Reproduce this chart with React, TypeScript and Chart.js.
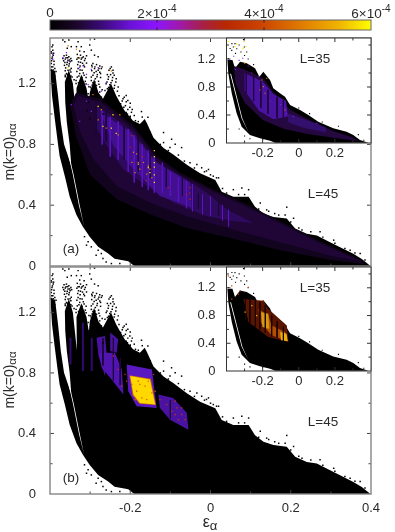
import React, { useEffect, useRef } from "react";
import { Chart, registerables } from "chart.js";

Chart.register(...registerables);

type P = number[];

const xTicksMajor = [-0.2, 0, 0.2];
const colorbarTicks = [0, 2e-4, 4e-4, 6e-4];
const colorbarLabels = ["0", "2×10", "4×10", "6×10"];
const colorbarStops: [number, string][] = [
  [0, "#000000"], [0.08, "#1b0628"], [0.16, "#3a0a78"], [0.25, "#6a12d8"], [0.33, "#8c14ff"], [0.4, "#a018b0"],
  [0.48, "#a82040"], [0.55, "#b82800"], [0.66, "#cc4400"], [0.78, "#e07a00"], [0.9, "#f0b400"], [1, "#ffff00"],
];

// main cloud outline (same for both L=45 panels)
const mainCloud: P[] = [
  [-0.398, 1.3], [-0.398, 1.254], [-0.395, 1.121], [-0.388, 0.967], [-0.38, 0.801], [-0.376, 0.723], [-0.363, 0.591],
  [-0.351, 0.458], [-0.334, 0.336], [-0.318, 0.259], [-0.301, 0.192], [-0.28, 0.126], [-0.255, 0.082], [-0.239, 0.048],
  [-0.205, 0.031], [-0.19, 0.0], [0.398, 0.0], [0.398, 0.002], [0.377, 0.046], [0.356, 0.08], [0.323, 0.124], [0.298, 0.157],
  [0.265, 0.201], [0.24, 0.212], [0.211, 0.246], [0.19, 0.312], [0.157, 0.323], [0.132, 0.345], [0.111, 0.389],
  [0.095, 0.456], [0.057, 0.456], [0.028, 0.489], [0.012, 0.566], [-0.026, 0.61], [-0.059, 0.666], [-0.092, 0.732],
  [-0.117, 0.776], [-0.142, 0.843], [-0.159, 0.942], [-0.164, 0.967], [-0.176, 0.934], [-0.193, 0.956], [-0.214, 1.022],
  [-0.235, 1.12], [-0.248, 1.2], [-0.262, 1.13], [-0.268, 1.1], [-0.279, 1.14], [-0.29, 1.23], [-0.301, 1.14], [-0.303, 1.07], [-0.309, 1.17], [-0.322, 1.26], [-0.334, 1.17],
  [-0.333, 0.95], [-0.343, 1.2], [-0.353, 1.29], [-0.363, 1.21], [-0.362, 1.077], [-0.358, 0.944],
  [-0.351, 0.801], [-0.347, 0.66], [-0.365, 0.801], [-0.373, 0.944], [-0.38, 1.121], [-0.387, 1.276],
];
const mainGap: P[] = [[-0.357, 0.76], [-0.343, 0.6], [-0.328, 0.4], [-0.315, 0.26], [-0.313, 0.26], [-0.326, 0.4], [-0.341, 0.6], [-0.355, 0.76]];
const mainSpecks: P[] = [
  [-0.395, 1.443], [-0.393, 1.42], [-0.397, 1.409], [-0.392, 1.387], [-0.395, 1.365], [-0.39, 1.347], [-0.397, 1.332], [-0.393, 1.31], [-0.388, 1.299], [-0.398, 1.288], [-0.393, 1.454],
  [-0.368, 1.487], [-0.363, 1.476], [-0.353, 1.487], [-0.347, 1.443], [-0.357, 1.432], [-0.365, 1.383], [-0.359, 1.387], [-0.353, 1.376], [-0.348, 1.365], [-0.368, 1.365], [-0.362, 1.361], [-0.355, 1.354], [-0.35, 1.343], [-0.363, 1.339], [-0.358, 1.325], [-0.353, 1.316], [-0.361, 1.303], [-0.355, 1.288], [-0.348, 1.277], [-0.359, 1.266], [-0.353, 1.25], [-0.345, 1.243],
  [-0.33, 1.476], [-0.334, 1.443], [-0.322, 1.443], [-0.326, 1.414], [-0.315, 1.409], [-0.332, 1.392], [-0.324, 1.387], [-0.317, 1.376], [-0.309, 1.383], [-0.33, 1.37], [-0.322, 1.361], [-0.314, 1.352], [-0.329, 1.343], [-0.319, 1.334], [-0.325, 1.316], [-0.314, 1.31], [-0.33, 1.299], [-0.32, 1.288], [-0.326, 1.266], [-0.315, 1.255], [-0.332, 1.243], [-0.322, 1.228], [-0.312, 1.215], [-0.329, 1.206],
  [-0.289, 1.493], [-0.301, 1.454], [-0.297, 1.42], [-0.289, 1.387], [-0.28, 1.376], [-0.293, 1.332], [-0.284, 1.325], [-0.276, 1.316], [-0.272, 1.299], [-0.295, 1.31], [-0.289, 1.299], [-0.28, 1.288], [-0.29, 1.272], [-0.282, 1.259], [-0.274, 1.266], [-0.297, 1.243], [-0.287, 1.232], [-0.279, 1.215], [-0.293, 1.206], [-0.284, 1.188], [-0.299, 1.177], [-0.276, 1.177],
  [-0.247, 1.31], [-0.253, 1.288], [-0.243, 1.288], [-0.257, 1.259], [-0.249, 1.259], [-0.24, 1.255], [-0.235, 1.232], [-0.255, 1.228], [-0.245, 1.221], [-0.26, 1.199], [-0.251, 1.193], [-0.239, 1.188], [-0.23, 1.177], [-0.257, 1.166], [-0.245, 1.162],
  [-0.21, 1.122], [-0.218, 1.1], [-0.206, 1.089], [-0.224, 1.067], [-0.212, 1.055], [-0.201, 1.044], [-0.197, 1.011], [-0.218, 1.022], [-0.207, 1.0], [-0.172, 1.016], [-0.187, 0.956], [-0.156, 0.978],
  [-0.117, 0.878], [-0.097, 0.834], [-0.088, 0.801], [-0.117, 0.812], [-0.072, 0.779], [-0.101, 0.779], [-0.051, 0.679], [-0.034, 0.668], [-0.022, 0.646], [-0.005, 0.635], [0.007, 0.591], [0.02, 0.58], [0.057, 0.502], [0.078, 0.513], [0.095, 0.502], [0.124, 0.414], [0.14, 0.369], [0.19, 0.387], [0.186, 0.336], [0.207, 0.314], [0.228, 0.237], [0.273, 0.226], [0.307, 0.17], [0.348, 0.104], [0.373, 0.082],
  [-0.305, 0.16], [-0.314, 0.193], [-0.297, 0.126], [-0.309, 0.137], [-0.28, 0.104], [-0.272, 0.082], [-0.285, 0.071], [-0.268, 0.049], [-0.26, 0.027], [-0.247, 0.016], [-0.226, 0.016],
  [-0.276, 1.144], [-0.272, 1.111], [-0.268, 1.078], [-0.274, 1.044], [-0.305, 1.133], [-0.304, 1.078], [-0.307, 1.022], [-0.301, 0.967], [-0.268, 1.0],
  [0.16, 0.345], [0.17, 0.335], [0.145, 0.36], [0.22, 0.25], [0.25, 0.225], [0.28, 0.19], [0.31, 0.15], [0.335, 0.115], [0.36, 0.085], [0.385, 0.04], [0.1, 0.41], [0.085, 0.47], [0.07, 0.47], [0.04, 0.48], [0.015, 0.58], [-0.01, 0.625], [-0.04, 0.645], [-0.065, 0.69], [-0.08, 0.73], [-0.105, 0.76], [-0.125, 0.8], [-0.15, 0.88], [0.0, 0.6], [-0.015, 0.62], [0.03, 0.51], [0.12, 0.375], [0.2, 0.29],
  [-0.385, 1.28], [-0.388, 1.25], [-0.362, 1.245], [-0.35, 1.235], [-0.34, 1.225], [-0.335, 1.2], [-0.31, 1.198], [-0.303, 1.18], [-0.297, 1.165], [-0.27, 1.16], [-0.263, 1.155], [-0.228, 1.12], [-0.22, 1.085], [-0.2, 0.985], [-0.18, 0.95], [-0.17, 0.98],
];
const fingerSpecks: P[] = [
  [-0.396, 1.4], [-0.391, 1.4], [-0.394, 1.375], [-0.39, 1.325], [-0.396, 1.35], [-0.392, 1.29], [-0.396, 1.31], [-0.389, 1.28],
  [-0.366, 1.35], [-0.36, 1.37], [-0.356, 1.37], [-0.351, 1.355], [-0.346, 1.35], [-0.364, 1.32], [-0.357, 1.34], [-0.352, 1.33], [-0.347, 1.3], [-0.362, 1.285], [-0.35, 1.29], [-0.357, 1.26], [-0.348, 1.25], [-0.362, 1.255],
  [-0.333, 1.36], [-0.327, 1.37], [-0.32, 1.37], [-0.312, 1.365], [-0.331, 1.325], [-0.324, 1.34], [-0.316, 1.32], [-0.309, 1.335], [-0.333, 1.28], [-0.325, 1.29], [-0.317, 1.27], [-0.328, 1.25], [-0.32, 1.24], [-0.31, 1.24], [-0.335, 1.22], [-0.326, 1.215], [-0.316, 1.205],
  [-0.296, 1.32], [-0.288, 1.31], [-0.278, 1.3], [-0.27, 1.31], [-0.296, 1.285], [-0.285, 1.28], [-0.276, 1.275], [-0.293, 1.255], [-0.283, 1.245], [-0.274, 1.24], [-0.297, 1.22], [-0.288, 1.21], [-0.278, 1.195], [-0.295, 1.19], [-0.286, 1.17],
  [-0.25, 1.3], [-0.243, 1.27], [-0.254, 1.245], [-0.244, 1.24], [-0.236, 1.21], [-0.258, 1.21], [-0.248, 1.205], [-0.24, 1.17], [-0.254, 1.175], [-0.232, 1.15], [-0.248, 1.15],
  [-0.215, 1.11], [-0.21, 1.08], [-0.2, 1.07], [-0.216, 1.045], [-0.206, 1.03], [-0.195, 1.03], [-0.21, 1.01], [-0.19, 0.99], [-0.2, 0.98],
];

// panel (a) density
const aGlowFaint: P[] = [[-0.335, 1.14], [-0.275, 1.1], [-0.192, 0.925], [-0.134, 0.726], [-0.076, 0.615], [0.007, 0.504], [0.082, 0.416], [0.182, 0.283], [0.265, 0.173], [0.356, 0.062], [0.39, 0.01], [0.3, 0.04], [0.18, 0.1], [0.057, 0.18], [-0.059, 0.25], [-0.151, 0.34], [-0.234, 0.44], [-0.3, 0.6], [-0.335, 0.85], [-0.35, 1.06]];
const aGlowDark: P[] = [[-0.33, 1.12], [-0.275, 1.08], [-0.192, 0.905], [-0.134, 0.71], [-0.076, 0.6], [0.007, 0.49], [0.082, 0.4], [0.182, 0.27], [0.265, 0.16], [0.35, 0.06], [0.381, 0.029], [0.307, 0.062], [0.182, 0.15], [0.057, 0.239], [-0.059, 0.327], [-0.151, 0.416], [-0.234, 0.527], [-0.292, 0.704], [-0.325, 0.881], [-0.342, 1.058]];
const aGlowMid: P[] = [[-0.284, 1.06], [-0.192, 0.881], [-0.134, 0.681], [-0.076, 0.593], [-0.009, 0.482], [0.041, 0.372], [0.107, 0.283], [0.057, 0.294], [-0.009, 0.327], [-0.092, 0.416], [-0.159, 0.527], [-0.217, 0.637], [-0.259, 0.792], [-0.288, 0.925]];
const aGlowBright: P[] = [[-0.275, 1.013], [-0.2, 0.881], [-0.134, 0.681], [-0.051, 0.549], [-0.047, 0.383], [-0.126, 0.46], [-0.192, 0.637], [-0.242, 0.792]];
const aBrightStripes: P[] = [[-0.27, 1.02, 0.8], [-0.25, 0.98, 0.72], [-0.23, 0.95, 0.7], [-0.205, 0.9, 0.62], [-0.19, 0.86, 0.55], [-0.17, 0.8, 0.52], [-0.155, 0.76, 0.5], [-0.14, 0.72, 0.48], [-0.12, 0.68, 0.48], [-0.1, 0.62, 0.46], [-0.08, 0.58, 0.42], [-0.06, 0.56, 0.38], [-0.045, 0.54, 0.36], [-0.02, 0.47, 0.34], [0.0, 0.46, 0.33], [0.03, 0.4, 0.3], [0.045, 0.37, 0.26]];
const aDarkStripes: P[] = [[-0.285, 1.08, 0.85], [-0.26, 1.02, 0.82], [-0.215, 0.92, 0.7], [-0.18, 0.86, 0.62], [-0.15, 0.74, 0.58], [-0.11, 0.66, 0.52], [-0.07, 0.58, 0.46], [-0.03, 0.48, 0.38], [0.02, 0.42, 0.33]];
const aYellow: P[] = [[-0.14, 0.759], [-0.14, 0.72], [-0.14, 0.68], [-0.14, 0.65], [-0.14, 0.6], [-0.14, 0.55], [-0.18, 0.67], [-0.155, 0.648], [-0.151, 0.615], [-0.243, 0.995], [-0.247, 0.907], [-0.28, 1.05], [-0.268, 0.918], [-0.235, 0.873], [-0.355, 1.305]];
const aOrange: P[] = [[-0.155, 0.659], [-0.151, 0.637], [-0.159, 0.604], [-0.146, 0.582], [-0.18, 0.681], [-0.192, 0.748], [-0.196, 0.681], [-0.184, 0.737], [-0.176, 0.637], [-0.188, 0.615], [-0.167, 0.681], [-0.247, 1.283], [-0.272, 1.028], [-0.226, 0.995], [-0.293, 1.128], [-0.326, 1.371], [-0.334, 1.426], [-0.355, 1.449], [-0.28, 0.962], [-0.26, 0.907], [-0.23, 0.862]];
const aRed: P[] = [[-0.051, 0.516], [-0.051, 0.438], [-0.196, 0.858], [-0.105, 0.516], [-0.17, 0.72], [-0.2, 0.78], [-0.16, 0.56], [-0.06, 0.47], [-0.052, 0.48]];
const aPurple: P[] = [[-0.368, 1.371], [-0.359, 1.404], [-0.318, 1.316], [-0.326, 1.305], [-0.297, 1.294], [-0.28, 1.305], [-0.26, 1.205], [-0.393, 1.393], [-0.393, 1.36], [-0.309, 1.261], [-0.355, 1.349], [-0.305, 1.194], [-0.347, 1.061], [-0.309, 1.084], [-0.297, 1.017], [-0.326, 0.951], [-0.272, 1.15]];

// panel (b) density
const bBlockA: P[] = [[-0.284, 1.033], [-0.263, 1.044], [-0.259, 0.934], [-0.263, 0.779], [-0.279, 0.912]];
const bBlockB: P[] = [[-0.25, 1.067], [-0.23, 1.022], [-0.234, 0.934], [-0.25, 0.945]];
const bBlockC: P[] = [[-0.279, 0.934], [-0.238, 0.934], [-0.221, 0.823], [-0.217, 0.657], [-0.25, 0.768], [-0.271, 0.834]];
const bBlockD: P[] = [[-0.209, 0.856], [-0.146, 0.823], [-0.138, 0.646], [-0.134, 0.569], [-0.184, 0.58], [-0.205, 0.679]];
const bRing: P[] = [[-0.202, 0.785], [-0.149, 0.762], [-0.136, 0.588], [-0.177, 0.597], [-0.194, 0.653]];
const bHot: P[] = [[-0.2, 0.779], [-0.151, 0.757], [-0.138, 0.591], [-0.176, 0.602], [-0.192, 0.657]];
const bBlockE: P[] = [[-0.13, 0.657], [-0.093, 0.635], [-0.059, 0.536], [-0.055, 0.425], [-0.101, 0.491], [-0.126, 0.569]];
const bFaintStripes: P[] = [[-0.349, 1.033, 0.856], [-0.318, 1.133, 0.812], [-0.296, 1.033, 0.812]];
const bDarkStripes: P[] = [[-0.268, 1.03, 0.85], [-0.242, 1.03, 0.75], [-0.225, 0.9, 0.72], [-0.1, 0.62, 0.5]];
const bRed: P[] = [[-0.242, 0.912], [-0.23, 0.823], [-0.221, 0.713], [-0.213, 0.79], [-0.142, 0.79], [-0.209, 0.746], [-0.109, 0.591], [-0.097, 0.547], [-0.084, 0.569], [-0.072, 0.569], [-0.088, 0.525], [-0.072, 0.525], [-0.08, 0.491], [-0.126, 0.624], [-0.063, 0.491], [-0.088, 0.613]];
const bHotSpots: P[] = [[-0.18, 0.746], [-0.163, 0.713], [-0.184, 0.679], [-0.146, 0.668], [-0.171, 0.635], [-0.159, 0.624], [-0.188, 0.624], [-0.176, 0.724], [-0.155, 0.746], [-0.196, 0.724], [-0.138, 0.679]];

// L=35 insets
const insetCloud: P[] = [[-0.395, 1.186], [-0.39, 0.995], [-0.371, 0.71], [-0.344, 0.424], [-0.316, 0.233], [-0.27, 0.114], [-0.215, 0.067], [-0.159, 0.033], [-0.13, 0.005], [0.385, 0.005], [0.339, 0.043], [0.302, 0.114], [0.265, 0.162], [0.191, 0.21], [0.108, 0.305], [0.053, 0.4], [0.007, 0.471], [-0.048, 0.543], [-0.076, 0.662], [-0.104, 0.71], [-0.141, 0.781], [-0.159, 0.9], [-0.196, 1.019], [-0.218, 0.948], [-0.242, 1.067], [-0.288, 1.138], [-0.325, 1.162], [-0.353, 1.067], [-0.367, 1.186]];
const insetGap: P[] = [[-0.38, 0.99], [-0.316, 0.35], [-0.279, 0.157], [-0.276, 0.157], [-0.312, 0.35], [-0.375, 0.99]];
const insetSpecks: P[] = [[-0.38, 1.35], [-0.35, 1.28], [-0.32, 1.3], [-0.3, 1.25], [-0.37, 1.42], [-0.33, 1.4], [-0.28, 1.2], [-0.25, 1.12], [0.0, 0.5], [0.06, 0.42], [0.13, 0.3], [0.22, 0.24], [0.33, 0.12], [0.36, 0.04], [-0.3, 0.1], [-0.27, 0.06], [-0.33, 0.2], [-0.2, 0.05], [-0.353, 1.419], [-0.343, 1.347], [-0.301, 1.371], [-0.288, 1.3], [-0.306, 1.476], [-0.362, 1.371], [-0.39, 1.205], [-0.371, 1.324]];
const iaDark: P[] = [[-0.36, 1.1], [-0.3, 1.05], [-0.196, 0.92], [-0.14, 0.72], [-0.05, 0.48], [0.05, 0.34], [0.19, 0.17], [0.3, 0.08], [0.33, 0.03], [0.2, 0.07], [0.05, 0.13], [-0.08, 0.2], [-0.2, 0.33], [-0.3, 0.58], [-0.35, 0.85]];
const iaMid: P[] = [[-0.3, 1.0], [-0.2, 0.88], [-0.14, 0.7], [-0.07, 0.6], [-0.06, 0.38], [-0.14, 0.34], [-0.22, 0.46], [-0.3, 0.75]];
const iaTail: P[] = [[-0.06, 0.42], [0.05, 0.32], [0.15, 0.22], [0.15, 0.15], [0.02, 0.22], [-0.06, 0.3]];
const iaDarkStripes: P[] = [[-0.29, 1.0, 0.72], [-0.25, 0.95, 0.6], [-0.21, 0.88, 0.5], [-0.17, 0.76, 0.42], [-0.12, 0.66, 0.36], [-0.085, 0.62, 0.36]];
const iaYellow: P[] = [[-0.39, 1.448], [-0.353, 1.376], [-0.303, 1.448], [-0.292, 1.376], [-0.307, 1.352], [-0.344, 1.414]];
const iaOrange: P[] = [[-0.299, 1.138], [-0.196, 0.805], [-0.204, 0.9], [-0.186, 0.71], [-0.215, 0.757], [-0.177, 0.924], [-0.076, 0.471]];
const iaPurple: P[] = [[-0.385, 1.19], [-0.36, 1.24], [-0.33, 1.18], [-0.31, 1.21], [-0.28, 1.1], [-0.26, 1.0], [-0.22, 0.95], [-0.35, 1.05], [-0.1, 0.55], [-0.08, 0.5], [-0.07, 0.42], [-0.16, 0.6], [-0.03, 0.38], [0.1, 0.28]];
const ibDark: P[] = [[-0.306, 1.038], [-0.196, 1.014], [-0.168, 0.895], [-0.066, 0.657], [-0.057, 0.419], [-0.168, 0.491], [-0.279, 0.705]];
const ibOrange: P[] = [[-0.223, 0.895], [-0.168, 0.8], [-0.15, 0.657], [-0.076, 0.562], [-0.061, 0.429], [-0.15, 0.514], [-0.214, 0.705]];
const ibHot1: P[] = [[-0.209, 0.848], [-0.168, 0.824], [-0.164, 0.61], [-0.201, 0.633]];
const ibHot2: P[] = [[-0.103, 0.562], [-0.067, 0.538], [-0.061, 0.429], [-0.098, 0.443]];
const ibDarkStripes: P[] = [[-0.295, 1.03, 0.72], [-0.27, 1.02, 0.68], [-0.24, 1.02, 0.62], [-0.215, 1.0, 0.6], [-0.185, 0.95, 0.55], [-0.15, 0.8, 0.5], [-0.12, 0.72, 0.48], [-0.085, 0.64, 0.43]];
const ibRed: P[] = [[-0.39, 1.371], [-0.371, 1.228], [-0.325, 1.157], [-0.279, 1.205], [-0.196, 1.014], [-0.334, 1.109], [-0.371, 1.038]];
const ibYellow: P[] = [[-0.297, 0.848], [-0.26, 0.943], [-0.233, 0.8]];

const FONT = "'Liberation Sans', Arial, sans-serif";
const INK = "#2a2a2a";
const shape = (pts: P[], color: string) => ({
  data: pts.map(([x, y]) => ({ x, y })), showLine: true, fill: "shape", backgroundColor: color,
  borderWidth: 0, borderColor: color, pointRadius: 0, tension: 0,
});
const dots = (pts: P[], color: string, r = 0.9) => ({
  data: pts.map(([x, y]) => ({ x, y })), showLine: false, backgroundColor: color,
  borderWidth: 0, pointRadius: r, pointStyle: "rect",
});
const stripes = (list: P[], color: string, width = 1) => ({
  data: list.flatMap(([x, top, bot]) => [{ x, y: top }, { x, y: bot }, { x, y: NaN }]),
  showLine: true, fill: false, spanGaps: false, borderColor: color, borderWidth: width, pointRadius: 0, tension: 0,
});

type Label = { text: string; x: number; y: number; sub?: string; rot?: boolean; size?: number };

function drawLabel(c: CanvasRenderingContext2D, l: Label) {
  c.save();
  c.fillStyle = INK;
  const size = l.size ?? 13.5;
  const subSize = size * 0.82;
  c.font = `${size}px ${FONT}`;
  c.textBaseline = "middle";
  c.translate(l.x, l.y);
  if (l.rot) c.rotate(-Math.PI / 2);
  const w = c.measureText(l.text).width;
  c.font = `${subSize}px ${FONT}`;
  const sw = l.sub ? c.measureText(l.sub).width : 0;
  const start = -(w + sw) / 2;
  c.textAlign = "left";
  c.font = `${size}px ${FONT}`;
  c.fillText(l.text, start, 0);
  if (l.sub) {
    c.font = `${subSize}px ${FONT}`;
    c.fillText(l.sub, start + w, 3);
  }
  c.restore();
}

function panel(
  canvas: HTMLCanvasElement,
  o: {
    left: number; top: number; right: number; bottom: number; yw: number; showX: boolean; xPad: number; yPad: number; xTicks: number[];
    border: string; tickColor: string; white: boolean; layers: any[]; labels: Label[];
  },
) {
  const xh = o.showX ? 24 : 0;
  const decorate = {
    id: "decorate",
    beforeDatasetsDraw(ch: any) {
      if (!o.white) return;
      const a = ch.chartArea;
      ch.ctx.fillStyle = "#ffffff";
      ch.ctx.fillRect(a.left, a.top, a.width, a.height);
    },
    afterDatasetsDraw(ch: any) {
      const a = ch.chartArea, c = ch.ctx;
      c.save();
      c.strokeStyle = o.tickColor;
      c.lineWidth = 1;
      c.beginPath();
      [-0.3, -0.2, -0.1, 0, 0.1, 0.2, 0.3].forEach((v) => {
        const p = ch.scales.x.getPixelForValue(v);
        const len = Math.abs(v * 10) % 2 > 0.5 ? 2.5 : 4;
        c.moveTo(p, a.bottom); c.lineTo(p, a.bottom - len);
        c.moveTo(p, a.top); c.lineTo(p, a.top + len);
      });
      [0.2, 0.4, 0.6, 0.8, 1.0, 1.2, 1.4].forEach((v) => {
        const p = ch.scales.y.getPixelForValue(v);
        const len = Math.round(v * 10) % 4 === 0 ? 4 : 2.5;
        c.moveTo(a.left, p); c.lineTo(a.left + len, p);
        c.moveTo(a.right, p); c.lineTo(a.right - len, p);
      });
      c.stroke();
      c.strokeStyle = o.border;
      c.lineWidth = o.white ? 1 : 1.4;
      c.strokeRect(a.left, a.top, a.width, a.height);
      c.restore();
      o.labels.forEach((l) => drawLabel(c, l));
    },
  };
  return new Chart(canvas, {
    type: "scatter",
    data: { datasets: [...o.layers].reverse() },
    plugins: [decorate],
    options: {
      animation: false, responsive: false, events: [],
      layout: { padding: { left: o.left - o.yw, top: o.top, right: 395 - o.right, bottom: 532 - o.bottom - xh } },
      plugins: { legend: { display: false }, tooltip: { enabled: false } },
      scales: {
        x: {
          type: "linear", min: -0.4, max: 0.4,
          afterFit: (s: any) => { s.height = xh; },
          border: { display: false }, grid: { display: false },
          afterBuildTicks: (s: any) => { s.ticks = o.xTicks.map((value) => ({ value })); },
          ticks: {
            display: o.showX, color: INK, font: { family: FONT, size: 13 }, padding: o.xPad, autoSkip: false, maxRotation: 0,
            callback: (v: any) => (Math.abs(v) < 1e-9 ? "0" : Number(v).toFixed(1)),
          },
        },
        y: {
          type: "linear", min: 0, max: 1.5,
          afterFit: (s: any) => { s.width = o.yw; },
          border: { display: false }, grid: { display: false },
          afterBuildTicks: (s: any) => { s.ticks = [0, 0.4, 0.8, 1.2].map((value) => ({ value })); },
          ticks: {
            color: INK, font: { family: FONT, size: 13 }, padding: o.yPad, autoSkip: false,
            callback: (v: any) => (Math.abs(v) < 1e-9 ? "0" : Number(v).toFixed(1)),
          },
        },
      },
    } as any,
  } as any);
}

function colorbar(canvas: HTMLCanvasElement) {
  const L = 50, R = 371, T = 20, B = 30;
  const overlay = {
    id: "overlay",
    afterDatasetsDraw(ch: any) {
      const a = ch.chartArea, c = ch.ctx;
      c.save();
      c.strokeStyle = "#666";
      c.lineWidth = 1;
      c.strokeRect(a.left, a.top, a.width, a.height);
      c.strokeStyle = "#222";
      c.beginPath();
      colorbarTicks.slice(1, 3).forEach((v) => {
        const p = ch.scales.x.getPixelForValue(v);
        c.moveTo(p, a.top); c.lineTo(p, a.top + 2.5);
        c.moveTo(p, a.bottom); c.lineTo(p, a.bottom - 2.5);
      });
      c.stroke();
      c.fillStyle = INK;
      colorbarTicks.forEach((v, i) => {
        const p = ch.scales.x.getPixelForValue(v);
        c.textBaseline = "alphabetic";
        c.textAlign = "left";
        c.font = `13.5px ${FONT}`;
        const t = colorbarLabels[i];
        const w = c.measureText(t).width;
        if (i === 0) { c.fillText(t, p - w / 2, 17); return; }
        c.font = `10px ${FONT}`;
        const sw = c.measureText("-4").width;
        c.font = `13.5px ${FONT}`;
        c.fillText(t, p - (w + sw) / 2, 17.5);
        c.font = `10px ${FONT}`;
        c.fillText("-4", p - (w + sw) / 2 + w, 12);
      });
      c.restore();
    },
  };
  return new Chart(canvas, {
    type: "bar",
    data: {
      labels: ["density"],
      datasets: [{
        data: [[0, 6e-4]],
        barPercentage: 1, categoryPercentage: 1, borderWidth: 0,
        backgroundColor: (ctx: any) => {
          const a = ctx.chart.chartArea;
          if (!a) return "#000";
          const g = ctx.chart.ctx.createLinearGradient(a.left, 0, a.right, 0);
          colorbarStops.forEach(([s, col]) => g.addColorStop(s, col));
          return g;
        },
      }],
    },
    plugins: [overlay],
    options: {
      indexAxis: "y", animation: false, responsive: false, events: [],
      layout: { padding: { left: L, top: T, right: 395 - R, bottom: 532 - B } },
      plugins: { legend: { display: false }, tooltip: { enabled: false } },
      scales: {
        x: { type: "linear", min: 0, max: 6e-4, display: true, afterFit: (s: any) => { s.height = 0; }, ticks: { display: false }, grid: { display: false }, border: { display: false } },
        y: { display: true, afterFit: (s: any) => { s.width = 0; }, ticks: { display: false }, grid: { display: false }, border: { display: false } },
      },
    } as any,
  } as any);
}

const mainBase = () => [shape(mainCloud, "#000000"), shape(mainGap, "#ffffff")];
const mainTop = () => [dots(mainSpecks, "#000000", 1.05), dots(fingerSpecks, "#000000", 1.05)];
const insetBase = () => [shape(insetCloud, "#000000"), shape(insetGap, "#ffffff")];

export default function App() {
  const refs = useRef<(HTMLCanvasElement | null)[]>([]);
  useEffect(() => {
    const GRAY = "#858585";
    const [c1, c2, c3, c4, c5] = refs.current as HTMLCanvasElement[];
    const yTitle = (y: number): Label => ({ text: "m(k=0)", sub: "αα", x: 10, y, rot: true, size: 14 });
    const charts = [
      panel(c1, {
        left: 50, top: 38, right: 371, bottom: 266, yw: 40, showX: false, xPad: 0, yPad: 6, xTicks: [], border: GRAY, tickColor: "#444", white: false,
        layers: [
          ...mainBase(), shape(aGlowFaint, "#12041f"), shape(aGlowDark, "#1f0636"), shape(aGlowMid, "#2e0a5c"), shape(aGlowBright, "#42108e"),
          stripes(aBrightStripes, "#5c14c4", 1), stripes(aDarkStripes, "#1c0638", 1),
          ...mainTop(), dots(aPurple, "#8c14ff", 0.9), dots(aRed, "#b82800", 0.9), dots(aOrange, "#e07a00", 0.9), dots(aYellow, "#ffe600", 0.9),
        ],
        labels: [yTitle(152), { text: "(a)", x: 71, y: 249 }, { text: "L=45", x: 323, y: 194 }],
      }),
      panel(c2, {
        left: 226.5, top: 38, right: 371, bottom: 143, yw: 30, showX: true, xPad: -5, yPad: 3, xTicks: xTicksMajor, border: "#333", tickColor: "#333", white: true,
        layers: [
          ...insetBase(), shape(iaDark, "#24083f"), shape(iaMid, "#4a12a0"), shape(iaTail, "#34106e"), stripes(iaDarkStripes, "#1c0638", 1),
          dots(insetSpecks, "#000000", 0.8), dots(iaPurple, "#8c14ff", 0.8), dots(iaOrange, "#e07a00", 0.8), dots(iaYellow, "#ffe600", 0.9),
        ],
        labels: [{ text: "L=35", x: 315, y: 59 }],
      }),
      panel(c3, {
        left: 50, top: 267, right: 371, bottom: 494, yw: 40, showX: true, xPad: -1, yPad: 6, xTicks: [-0.2, 0, 0.2, 0.4], border: GRAY, tickColor: "#444", white: false,
        layers: [
          ...mainBase(), stripes(bFaintStripes, "#300a70", 2),
          shape(bBlockA, "#4a12a0"), shape(bBlockB, "#4a12a0"), shape(bBlockC, "#5214b0"), shape(bBlockD, "#5a18c0"), shape(bBlockE, "#4a12a0"),
          stripes(bDarkStripes, "#1c0638", 1), shape(bRing, "#d06a08"), shape(bHot, "#ffd800"),
          ...mainTop(), dots(bRed, "#c83a10", 0.9), dots(bHotSpots, "#d85a00", 0.9),
        ],
        labels: [yTitle(380), { text: "(b)", x: 71, y: 478 }, { text: "L=45", x: 323, y: 422 }, { text: "ε", sub: "α", x: 210, y: 523, size: 16 }],
      }),
      panel(c4, {
        left: 226.5, top: 267, right: 371, bottom: 371, yw: 30, showX: true, xPad: -5, yPad: 3, xTicks: xTicksMajor, border: "#333", tickColor: "#333", white: true,
        layers: [
          ...insetBase(), shape(ibDark, "#5a1500"), shape(ibOrange, "#b05000"), shape(ibHot1, "#d89810"), shape(ibHot2, "#e8b010"), stripes(ibDarkStripes, "#1a0500", 1),
          dots(insetSpecks, "#000000", 0.8), dots(ibRed, "#d04010", 0.9), dots(ibYellow, "#e8b010", 0.9),
        ],
        labels: [{ text: "L=35", x: 315, y: 288 }],
      }),
      colorbar(c5),
    ];
    return () => charts.forEach((c) => c.destroy());
  }, []);
  return (
    <div style={{ position: "fixed", left: 0, top: 0, width: 395, height: 532, background: "#fff", filter: "blur(0.45px)" }}>
      {[0, 1, 2, 3, 4].map((i) => (
        <canvas
          key={i}
          ref={(el) => { refs.current[i] = el; }}
          width={395}
          height={532}
          style={{ position: "absolute", left: 0, top: 0, width: 395, height: 532 }}
        />
      ))}
    </div>
  );
}
